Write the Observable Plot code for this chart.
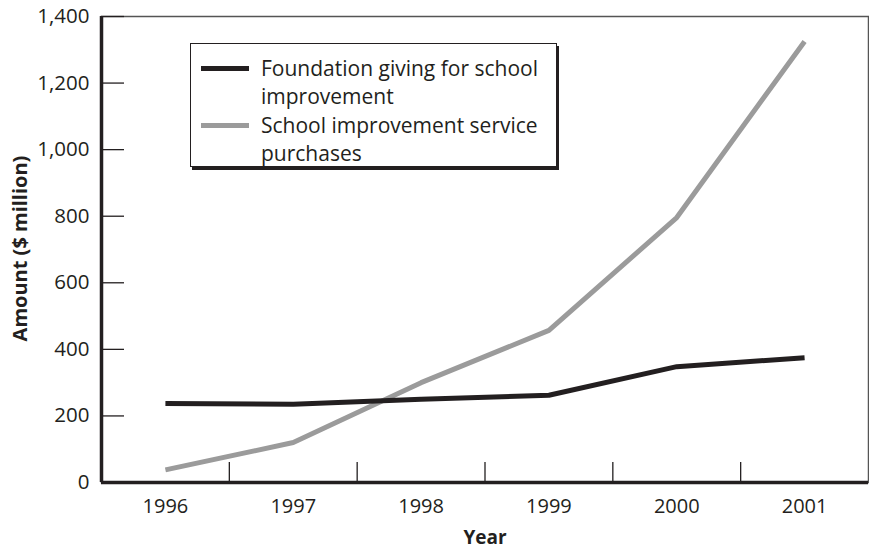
<!DOCTYPE html>
<html>
<head>
<meta charset="utf-8">
<script src="https://cdn.jsdelivr.net/npm/d3@7"></script>
<script src="https://cdn.jsdelivr.net/npm/@observablehq/plot@0.6"></script>
<style>
  html, body { margin: 0; padding: 0; background: #fff; }
  #wrap { position: relative; width: 869px; height: 550px; font-family: "Open Sans", sans-serif; color: #231f20; }
  #legend { position: absolute; left: 190px; top: 43px; width: 367px; height: 124px;
    border: 1.5px solid #231f20; box-shadow: 2px 3px 0 #231f20; background: #fff; box-sizing: border-box; }
  .row { position: absolute; left: 70px; font-size: 21px; line-height: 28px; white-space: nowrap; }
  .sw { position: absolute; left: 10px; width: 48px; height: 5px; }
</style>
</head>
<body>
<div id="wrap"></div>
<script>
const years = [1996, 1997, 1998, 1999, 2000, 2001];
const foundationGiving = [237, 235, 250, 262, 348, 375];
const servicePurchases = [38, 120, 300, 457, 796, 1325];
const yTicks = [0, 200, 400, 600, 800, 1000, 1200, 1400];
const seriesNames = ["Foundation giving for school\nimprovement", "School improvement service\npurchases"];
const seriesColors = ["#231f20", "#9b9b9b"];

const dataA = years.map((y, i) => ({year: y, value: foundationGiving[i]}));
const dataB = years.map((y, i) => ({year: y, value: servicePurchases[i]}));
const xBetween = years.slice(0, -1).map(y => y + 0.5);
const xDomain = [years[0] - 0.5, years[years.length - 1] + 0.5];

const W = 869, H = 550, mL = 101, mR = 1, mT = 16, mB = 68;
const plotW = W - mL - mR, plotH = H - mT - mB;

const chart = Plot.plot({
  width: W, height: H,
  marginLeft: mL, marginRight: mR, marginTop: mT, marginBottom: mB,
  style: {fontFamily: "'Open Sans', sans-serif", fontSize: "20px", color: "#231f20", background: "#fff"},
  x: {domain: xDomain, axis: null},
  y: {domain: [0, 1400], axis: null},
  marks: [
    Plot.frame({stroke: "#555", strokeWidth: 1.5}),
    Plot.axisY({ticks: yTicks, tickSize: 0, tickPadding: 12, tickFormat: d3.format(","), label: null, fill: "#231f20", fontSize: 20.5}),
    Plot.axisX({ticks: years, tickSize: 0, tickPadding: 16, tickFormat: d => String(d), label: null, fill: "#231f20", fontSize: 20}),
    Plot.tickY(yTicks, {y: d => d, stroke: "#231f20", strokeWidth: 1.3, insetRight: plotW - 23}),
    Plot.tickX(xBetween, {x: d => d, stroke: "#231f20", strokeWidth: 1.3, insetTop: plotH - 20}),
    Plot.ruleX([xDomain[0]], {stroke: "#231f20", strokeWidth: 3.5}),
    Plot.ruleY([0], {stroke: "#231f20", strokeWidth: 3.5}),
    Plot.line(dataB, {x: "year", y: "value", stroke: seriesColors[1], strokeWidth: 5, strokeLinecap: "butt", strokeLinejoin: "miter"}),
    Plot.line(dataA, {x: "year", y: "value", stroke: seriesColors[0], strokeWidth: 5, strokeLinecap: "butt", strokeLinejoin: "miter"}),
    Plot.text(["Amount ($ million)"], {frameAnchor: "left", dx: -81, dy: -1, rotate: -90, textAnchor: "middle", lineAnchor: "middle", text: d => d, fontWeight: "bold", fontSize: 20, fill: "#231f20"}),
    Plot.text(["Year"], {frameAnchor: "bottom", dy: 55, textAnchor: "middle", lineAnchor: "middle", text: d => d, fontWeight: "bold", fontSize: 19, fill: "#231f20"})
  ]
});

const wrap = document.getElementById("wrap");
wrap.appendChild(chart);

const legend = document.createElement("div");
legend.id = "legend";
seriesNames.forEach((name, i) => {
  const top = 10 + i * 57;
  const sw = document.createElement("div");
  sw.className = "sw";
  sw.style.top = (top + 12) + "px";
  sw.style.background = seriesColors[i];
  legend.appendChild(sw);
  name.split("\n").forEach((line, j) => {
    const r = document.createElement("div");
    r.className = "row";
    r.style.top = (top + j * 28) + "px";
    r.textContent = line;
    legend.appendChild(r);
  });
});
wrap.appendChild(legend);
</script>
</body>
</html>
